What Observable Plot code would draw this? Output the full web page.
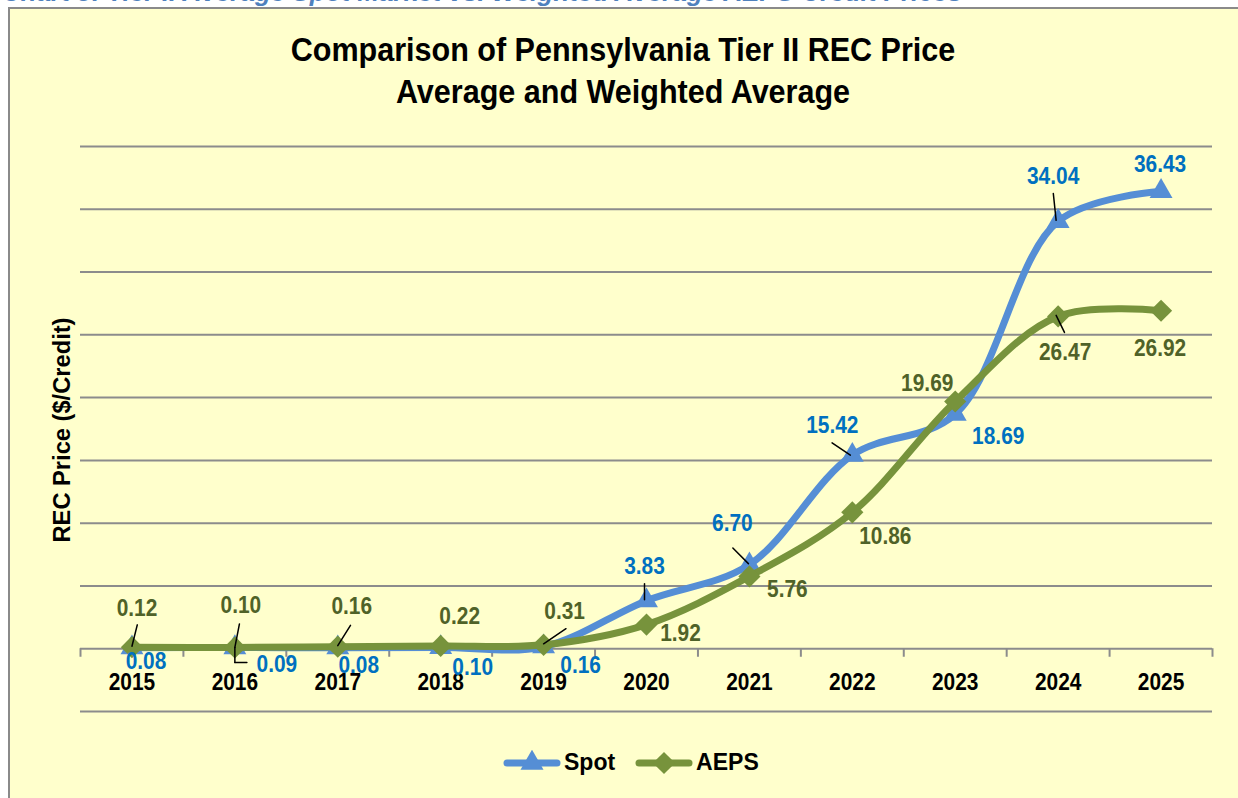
<!DOCTYPE html>
<html><head><meta charset="utf-8">
<script src="https://cdn.jsdelivr.net/npm/d3@7"></script>
<script src="https://cdn.jsdelivr.net/npm/@observablehq/plot@0.6"></script>
<style>
body{margin:0;background:#fff;width:1238px;height:798px;overflow:hidden;position:relative;font-family:"Liberation Sans","Arial Narrow",Arial,sans-serif;}
#caption{position:absolute;left:2px;top:-21px;font-style:italic;font-weight:bold;font-size:26px;line-height:26px;color:#4F81BD;white-space:nowrap;}
#frame{position:absolute;left:8px;top:7px;width:1300px;height:900px;border:2px solid #8a8a8a;background:#FFFFCC;}
#title{position:absolute;left:0;width:1246px;top:28px;text-align:center;font-weight:bold;font-size:34px;line-height:42px;color:#000;transform:scaleX(0.898);transform-origin:623px 0;}
#chart{position:absolute;left:0;top:0;}
#legend{position:absolute;top:749px;left:503px;display:flex;align-items:center;font-weight:bold;font-size:23px;color:#000;}
#legend .item{display:flex;align-items:center;margin-right:20px;}
#legend svg{margin-right:3px;}
</style>
</head><body>
<div id="caption">Chart 3: Tier II Average Spot Market vs. Weighted Average AEPS Credit Prices</div>
<div id="frame"></div>
<div id="title">Comparison of Pennsylvania Tier II REC Price<br>Average and Weighted Average</div>
<div id="chart"></div>
<div id="legend"></div>
<script>
// ---- data ----
const years = [2015, 2016, 2017, 2018, 2019, 2020, 2021, 2022, 2023, 2024, 2025];
const spotPrices = [0.08, 0.09, 0.08, 0.10, 0.16, 3.83, 6.70, 15.42, 18.69, 34.04, 36.43];
const aepsPrices = [0.12, 0.10, 0.16, 0.22, 0.31, 1.92, 5.76, 10.86, 19.69, 26.47, 26.92];
const gridValues = [-5, 0, 5, 10, 15, 20, 25, 30, 35, 40];
const seriesNames = ["Spot", "AEPS"];
const yAxisLabel = "REC Price ($/Credit)";

// ---- label placement (pixel offsets from each point) ----
const spotLabelOffsets = [[14,14],[42,17],[21,18],[32,20],[37,19],[-2,-34],[-17,-41],[-20,-30],[43,22],[-5,-45],[-1,-27]];
const aepsLabelOffsets = [[5,-39],[6,-42],[14,-40],[19,-30],[21,-34],[34,9],[38,13],[33,24],[-28,-18],[7,36],[-1,38]];
// leader lines: [series, index, dx, dy, rotate(deg), length(px)]
const leaders = [
  ["aeps",0,0,-1,14,22],["aeps",1,0,0,11,24],["aeps",2,0,-1,32,24],["aeps",4,0,-1,56,27],
  ["spot",1,0,0,180,15],["spot",1,0,15,90,12],
  ["spot",5,-2,-1,0,16],["spot",6,-1,-1,-45,22],["spot",7,-2,0,-56,22],["spot",9,-2,-1,-6,27],
  ["aeps",9,-2,-1,154,19]
];

const spotColor = "#558ED5", aepsColor = "#77933C";
const spotText = "#0070C0", aepsText = "#4F6228";
const fontFamily = '"Liberation Sans",Arial,sans-serif';

const rows = years.map((year, i) => ({year, spot: spotPrices[i], aeps: aepsPrices[i]}));
const bounds = [years[0] - 0.5, ...years.map(y => y + 0.5)];
const lineShape = {draw(ctx, l) { ctx.moveTo(0, 0); ctx.lineTo(0, -l); }};

const labelMarks = (key, offs, color) => rows.map((r, i) => Plot.text([r], {
  x: "year", y: key, text: d => d[key].toFixed(2), dx: offs[i][0], dy: offs[i][1],
  fill: color, fontSize: 24, fontWeight: "bold", textAnchor: "middle", lineAnchor: "middle"
}));
const leaderMarks = leaders.map(([key, idx, ox, oy, angle, len]) => Plot.vector([rows[idx]], {
  x: "year", y: key, dx: ox, dy: oy, rotate: angle, length: len, anchor: "start",
  shape: lineShape, stroke: "#000", strokeWidth: 1.5
}));

const chart = Plot.plot({
  width: 1238, height: 798,
  marginLeft: 80, marginRight: 26, marginTop: 146, marginBottom: 87,
  x: {type: "linear", domain: [2014.5, 2025.5], axis: null},
  y: {domain: [-5, 40], axis: null},
  style: {background: "transparent", fontFamily, overflow: "visible"},
  marks: [
    Plot.ruleY(gridValues, {stroke: "#8c8c8c", strokeWidth: 2}),
    Plot.ruleX(bounds, {y1: 0, y2: -0.68, stroke: "#8c8c8c", strokeWidth: 2}),
    Plot.text(years, {x: d => d, y: 0, dy: 34, text: d => String(d), fontSize: 24, fontWeight: "bold", fill: "#000"}),
    Plot.text([yAxisLabel], {frameAnchor: "left", dx: -18, dy: 1, rotate: -90, textAnchor: "middle", fontSize: 24, fontWeight: "bold", fill: "#000"}),
    Plot.line(rows, {x: "year", y: "spot", curve: "catmull-rom", stroke: spotColor, strokeWidth: 7}),
    Plot.dot(rows, {x: "year", y: "spot", symbol: "triangle", r: 8.5, fill: spotColor, stroke: "none"}),
    Plot.line(rows, {x: "year", y: "aeps", curve: "catmull-rom", stroke: aepsColor, strokeWidth: 7}),
    Plot.dot(rows, {x: "year", y: "aeps", symbol: "diamond2", r: 10, fill: aepsColor, stroke: "none"}),
    ...leaderMarks,
    ...labelMarks("spot", spotLabelOffsets, spotText),
    ...labelMarks("aeps", aepsLabelOffsets, aepsText)
  ]
});
document.getElementById("chart").appendChild(chart);

// narrow the (Arial Narrow-like) texts horizontally
chart.querySelectorAll("text").forEach(t => {
  const len = t.getComputedTextLength();
  const target = t.textContent === yAxisLabel ? 225 : len * 0.87;
  t.setAttribute("textLength", target);
  t.setAttribute("lengthAdjust", "spacingAndGlyphs");
});

// ---- legend ----
const legend = document.getElementById("legend");
const swatch = [
  {name: seriesNames[0], color: spotColor, symbol: d3.symbolTriangle, size: 230},
  {name: seriesNames[1], color: aepsColor, symbol: d3.symbolDiamond2, size: 314}
];
swatch.forEach(s => {
  const item = document.createElement("div");
  item.className = "item";
  const svg = d3.create("svg").attr("width", 58).attr("height", 26);
  svg.append("line").attr("x1", 4).attr("x2", 54).attr("y1", 13).attr("y2", 13)
    .attr("stroke", s.color).attr("stroke-width", 7).attr("stroke-linecap", "round");
  svg.append("path").attr("transform", "translate(29,13)")
    .attr("d", d3.symbol(s.symbol, s.size)()).attr("fill", s.color);
  item.appendChild(svg.node());
  const t = document.createElement("span");
  t.textContent = s.name;
  item.appendChild(t);
  legend.appendChild(item);
});
</script>
</body></html>
